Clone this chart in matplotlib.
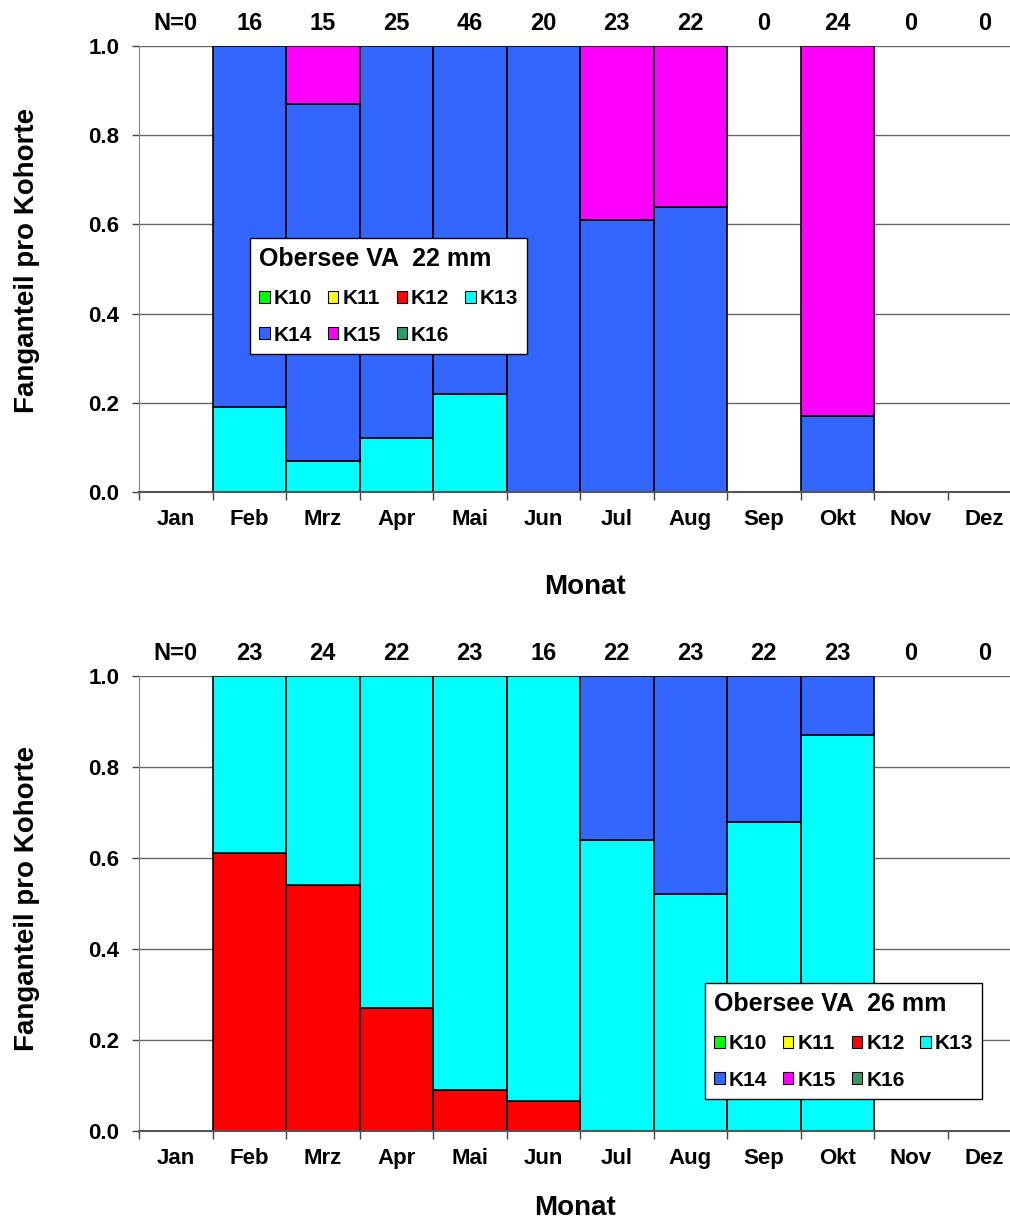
import matplotlib
matplotlib.use("Agg")
import matplotlib.pyplot as plt
from matplotlib.patches import Patch
import numpy as np

months = ['Jan', 'Feb', 'Mrz', 'Apr', 'Mai', 'Jun', 'Jul', 'Aug', 'Sep', 'Okt', 'Nov', 'Dez']
cohorts = ['K10', 'K11', 'K12', 'K13', 'K14', 'K15', 'K16']
colors = ['#00FF00', '#FFFF00', '#FF0000', '#00FFFF', '#3366FF', '#FF00FF', '#339966']

# 22 mm mesh: share per cohort and month
n_22 = ['N=0', '16', '15', '25', '46', '20', '23', '22', '0', '24', '0', '0']
k13_22 = [0, 0.19, 0.07, 0.12, 0.22, 0, 0, 0, 0, 0, 0, 0]
k14_22 = [0, 0.81, 0.80, 0.88, 0.78, 1.0, 0.61, 0.64, 0, 0.17, 0, 0]
k15_22 = [0, 0, 0.13, 0, 0, 0, 0.39, 0.36, 0, 0.83, 0, 0]

# 26 mm mesh
n_26 = ['N=0', '23', '24', '22', '23', '16', '22', '23', '22', '23', '0', '0']
k12_26 = [0, 0.61, 0.54, 0.27, 0.09, 0.065, 0, 0, 0, 0, 0, 0]
k13_26 = [0, 0.39, 0.46, 0.73, 0.91, 0.935, 0.64, 0.52, 0.68, 0.87, 0, 0]
k14_26 = [0, 0, 0, 0, 0, 0, 0.36, 0.48, 0.32, 0.13, 0, 0]

zero = [0] * 12
data_22 = [zero, zero, zero, k13_22, k14_22, k15_22, zero]
data_26 = [zero, zero, k12_26, k13_26, k14_26, zero, zero]

fig = plt.figure(figsize=(10.1, 12.2), dpi=100)
ax1 = fig.add_axes([139 / 1010, 1 - 492 / 1220, 882 / 1010, 446 / 1220])
ax2 = fig.add_axes([139 / 1010, 1 - 1131 / 1220, 882 / 1010, 455 / 1220])

font = ['Liberation Sans', 'DejaVu Sans']


def draw(ax, data, nlabels, title, legend_xy):
    x = np.arange(12)
    bottom = np.zeros(12)
    for vals, col in zip(data, colors):
        vals = np.array(vals, dtype=float)
        mask = vals > 0
        ax.bar(x[mask], vals[mask], bottom=bottom[mask], width=1.0, color=col,
               edgecolor='black', linewidth=1.2, zorder=3)
        bottom += vals
    ax.set_xlim(-0.5, 11.5)
    ax.set_ylim(0, 1.0)
    for yv in [0.2, 0.4, 0.6, 0.8, 1.0]:
        ax.axhline(yv, color='#666666', linewidth=1.0, zorder=1)
    ax.set_yticks([0.0, 0.2, 0.4, 0.6, 0.8, 1.0])
    ax.set_yticklabels(['0.0', '0.2', '0.4', '0.6', '0.8', '1.0'],
                       fontsize=16, fontweight='bold', family=font)
    ax.set_xticks(x)
    ax.set_xticklabels(months, fontsize=16, fontweight='bold', family=font)
    ax.set_xticks(np.arange(-0.5, 12, 1), minor=True)
    ax.tick_params(axis='x', which='major', length=0, pad=12)
    ax.tick_params(axis='x', which='minor', length=6, width=1, color='#444444')
    ax.tick_params(axis='y', length=5, width=1, color='#444444', pad=9)
    for s in ['top', 'right']:
        ax.spines[s].set_visible(False)
    ax.spines['left'].set_color('#888888')
    ax.spines['bottom'].set_color('#555555')
    ax.spines['bottom'].set_linewidth(1.5)
    ax.spines['bottom'].set_zorder(4)
    for i, lab in enumerate(nlabels):
        ax.annotate(lab, xy=(i, 1.0), xycoords=('data', 'axes fraction'),
                    xytext=(0, 8), textcoords='offset points',
                    ha='center', va='bottom', fontsize=17, fontweight='bold',
                    family=font)
    # matplotlib fills legend columns first, so reorder to get row-wise K10..K13 / K14..K16
    order = [0, 4, 1, 5, 2, 6, 3]
    handles = [Patch(facecolor=colors[i], edgecolor='black', linewidth=0.8) for i in order]
    labels = [cohorts[i] for i in order]
    leg = ax.legend(handles, labels, ncol=4, title=title,
                    loc='upper left', bbox_to_anchor=legend_xy,
                    bbox_transform=fig.transFigure,
                    prop={'size': 15, 'weight': 'bold', 'family': font},
                    title_fontproperties={'size': 18, 'weight': 'bold', 'family': font},
                    handlelength=0.5, handleheight=0.5, handletextpad=0.2,
                    columnspacing=0.75, labelspacing=0.85, borderpad=0.45,
                    borderaxespad=0, fancybox=False, framealpha=1, edgecolor='black')
    leg.get_frame().set_linewidth(1.0)
    leg._legend_box.align = 'left'
    leg.set_zorder(5)


draw(ax1, data_22, n_22, 'Obersee VA  22 mm', (250 / 1010, 1 - 238 / 1220))
draw(ax2, data_26, n_26, 'Obersee VA  26 mm', (705 / 1010, 1 - 983 / 1220))

for yc in [1 - 260 / 1220, 1 - 898 / 1220]:
    fig.text(27 / 1010, yc, 'Fanganteil pro Kohorte', rotation=90, ha='center',
             va='center', fontsize=20, fontweight='bold', family=font)
fig.text(585 / 1010, 1 - 587 / 1220, 'Monat', ha='center', va='center',
         fontsize=20, fontweight='bold', family=font)
fig.text(575 / 1010, 1 - 1208 / 1220, 'Monat', ha='center', va='center',
         fontsize=20, fontweight='bold', family=font)

fig.savefig('out.png', dpi=100)
